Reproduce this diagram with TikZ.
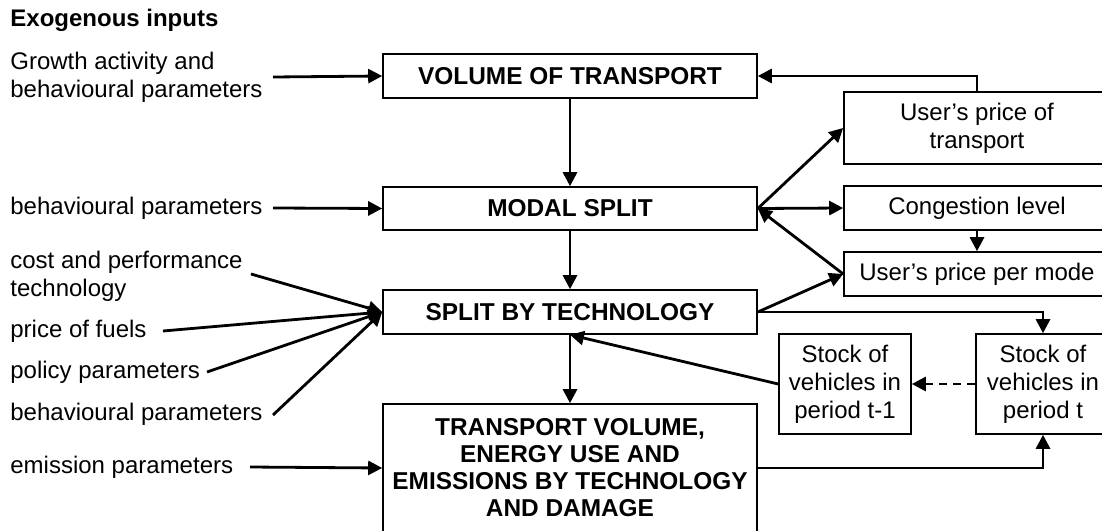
\documentclass[tikz,border=0pt]{standalone}
\usepackage{fontspec}
\setmainfont{Liberation Sans}
\usetikzlibrary{arrows.meta}
\begin{document}
\begin{tikzpicture}[x=0.5pt,y=-0.5pt,
  font=\fontsize{12}{14}\selectfont,
  box/.style={draw,line width=0.8pt,inner sep=0pt,align=center,anchor=center},
  bigbox/.style={box,minimum width=187pt,font=\fontsize{12.2}{13.5}\selectfont\bfseries},
  lbl/.style={anchor=west,align=left,inner sep=0pt},
  arr/.style={line width=1.4pt,-{Triangle[length=7pt,width=7pt]}},
  dsh/.style={arr,dashed,dash pattern=on 4pt off 3pt}
]
\clip (0,0) rectangle (1102,530);
\fill[white] (0,0) rectangle (1102,530);

% main boxes
\node[bigbox,minimum height=22pt] (vol) at (570,76) {VOLUME OF TRANSPORT};
\node[bigbox,minimum height=21.5pt] (modal) at (570,208.5) {MODAL SPLIT};
\node[bigbox,minimum height=22pt] (split) at (570,312) {SPLIT BY TECHNOLOGY};
\node[bigbox,minimum height=64pt] (tv) at (570,468) {TRANSPORT VOLUME,\\ENERGY USE AND\\EMISSIONS BY TECHNOLOGY\\AND DAMAGE};

% right boxes
\node[box,minimum width=133pt,minimum height=36pt] (upt) at (977,128) {User’s price of\\transport};
\node[box,minimum width=133pt,minimum height=22pt] (cong) at (977,208) {Congestion level};
\node[box,minimum width=133pt,minimum height=22pt] (upm) at (977,274) {User’s price per mode};
\node[box,minimum width=66pt,minimum height=50pt] (st1) at (845,384) {Stock of\\vehicles in\\period t-1};
\node[box,minimum width=67pt,minimum height=50pt] (st) at (1043,384) {Stock of\\vehicles in\\period t};

% left labels
\node[lbl,font=\fontsize{12}{14}\selectfont\bfseries] (exo) at (10,20) {Exogenous inputs};
\node[lbl] (growth) at (10,77) {Growth activity and\\behavioural parameters};
\node[lbl] (beh1) at (10,208) {behavioural parameters};
\node[lbl] (cost) at (10,276) {cost and performance\\technology};
\node[lbl] (fuel) at (10,331) {price of fuels};
\node[lbl] (pol) at (10,372) {policy parameters};
\node[lbl] (beh2) at (10,414) {behavioural parameters};
\node[lbl] (emi) at (10,467) {emission parameters};

% free ends of input arrows
\coordinate (cg) at (273,77);
\coordinate (cb1) at (273,208);
\coordinate (cc) at (251,274);
\coordinate (cf) at (163,331);
\coordinate (cp) at (207,372);
\coordinate (cb2) at (273,415);
\coordinate (ce) at (250,467);

\draw[arr] (cg) -- (vol.west);
\draw[arr] (cb1) -- (modal.west);
\draw[arr] (cc) -- (split.west);
\draw[arr] (cf) -- (split.west);
\draw[arr] (cp) -- (split.west);
\draw[arr] (cb2) -- (split.west);
\draw[arr] (ce) -- (tv.west);

% vertical chain
\draw[arr] (vol.south) -- (modal.north);
\draw[arr] (modal.south) -- (split.north);
\draw[arr] (split.south) -- (tv.north);

% right connections
\draw[arr] (upt.north) |- (vol.east);
\draw[arr] (modal.east) -- (upt.west);
\draw[arr] (modal.east) -- (cong.west);
\draw[arr] (upm.west) -- (modal.east);
\draw[arr] (split.east) -- (upm.west);
\draw[arr] (cong.south) -- (upm.north);
\draw[arr] (split.east) -| (st.north);
\draw[arr] (st1.west) -- (split.south);
\draw[dsh] (st.west) -- (st1.east);
\draw[arr] (tv.east) -| (st.south);
\end{tikzpicture}
\end{document}
